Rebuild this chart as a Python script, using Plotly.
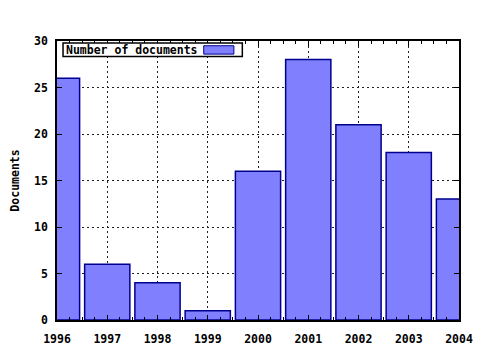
import plotly.graph_objects as go

years = [1996, 1997, 1998, 1999, 2000, 2001, 2002, 2003, 2004]
documents = [26, 6, 4, 1, 16, 28, 21, 18, 13]
series_name = "Number of documents"
y_title = "Documents"

font_family = "DejaVu Sans Mono"
tfont = dict(family=font_family, size=11.5, color="black", weight="bold")
fig = go.Figure()
fig.add_trace(go.Bar(
    x=years, y=documents, name=series_name, width=0.9,
    marker=dict(color="#8080ff", line=dict(color="#000090", width=1.5)),
    showlegend=False,
))

axis_common = dict(
    showline=True, linecolor="black", linewidth=1.5, mirror="allticks",
    ticks="inside", tickcolor="black", ticklen=5, tickwidth=1,
    showgrid=True, gridcolor="#202020", griddash="2px,3px", gridwidth=1,
    zeroline=False, automargin=False,
    tickfont=tfont,
)
fig.update_xaxes(range=[1996, 2004], tickmode="array", tickvals=years,
                 ticktext=[str(y) for y in years], ticklabelstandoff=7,
                 minor=dict(ticks="inside", ticklen=3, dtick=0.25, tick0=1996,
                            tickcolor="black", showgrid=False),
                 **axis_common)
fig.update_yaxes(range=[0, 30], dtick=5, ticklabelstandoff=5,
                 title=dict(text=y_title, font=tfont, standoff=12),
                 **axis_common)

# legend box (key to the right of its label, gnuplot style)
fig.add_shape(type="rect", xref="paper", yref="paper",
              x0=0.015, x1=0.461, y0=0.944, y1=0.993,
              fillcolor="white", line=dict(color="black", width=1.5))
fig.add_shape(type="rect", xref="paper", yref="paper",
              x0=0.365, x1=0.44, y0=0.953, y1=0.983,
              fillcolor="#8080ff", line=dict(color="#000090", width=1))
fig.add_annotation(xref="paper", yref="paper", x=0.017, y=0.969,
                   xanchor="left", yanchor="middle", showarrow=False,
                   text=series_name, font=tfont)

fig.update_layout(
    width=480, height=350,
    margin=dict(l=57, r=21, t=41, b=30),
    paper_bgcolor="white", plot_bgcolor="white",
    bargap=0.1,
)
fig.write_html("out.html")
